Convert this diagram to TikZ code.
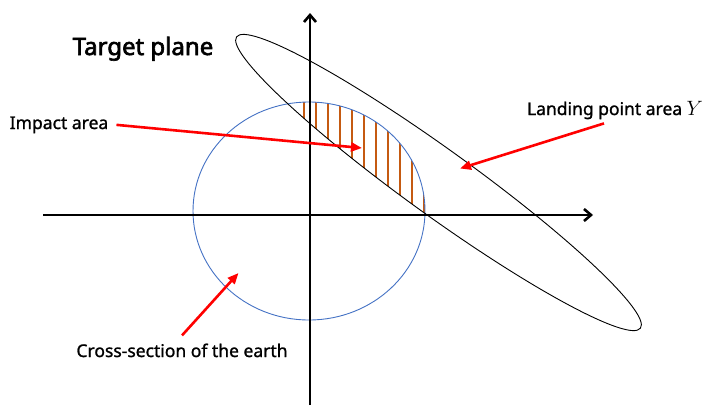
\documentclass[tikz,border=0pt]{standalone}
\usepackage{fontspec}
\setmainfont{Noto Sans}
\newfontfamily\semib{Noto Sans}[FakeBold=1.2]
\newfontfamily\heavyb{Noto Sans}[FakeBold=2.6]
\usepackage{tikz}
\usetikzlibrary{arrows.meta}
\definecolor{earthc}{HTML}{4472C4}
\definecolor{hatchc}{HTML}{C55A11}
\definecolor{pointc}{HTML}{FF0000}
\tikzset{
  ax/.style={-{Straight Barb[length=7pt,width=12pt]},line width=2.6pt},
  ar/.style={-{Triangle[length=11pt,width=9pt]},line width=2.6pt,pointc},
  lbl/.style={inner sep=0pt,font=\semib\fontsize{17.5}{20}\selectfont},
  hatch/.style={hatchc,line width=2.8pt}
}
\begin{document}
\begin{tikzpicture}[x=1pt,y=-1pt]
\useasboundingbox (0,0) rectangle (711,405);
% hatched impact area
\begin{scope}
\clip (309,211) ellipse [x radius=116, y radius=109];
\clip[shift={(438.5,182.5)},rotate=-35.8] (0,0) ellipse [x radius=249, y radius=33];
\foreach \hx in {304,316,...,424}
  \draw[hatch] (\hx,80) -- (\hx,230);
\end{scope}
% earth and landing area
\draw[earthc,line width=0.9pt] (309,211) ellipse [x radius=116, y radius=109];
\draw[black,line width=0.9pt,shift={(438.5,182.5)},rotate=-35.8] (0,0) ellipse [x radius=249, y radius=33];
% axes
\draw[ax] (43,215) -- (593,215);
\draw[ax] (310,405) -- (310,13);
% labels
\node[lbl,anchor=base,font=\heavyb\fontsize{24}{28}\selectfont] (target) at (143,55) {Target plane};
\node[lbl,anchor=base] (impact) at (59,129) {Impact area};
\node[lbl,anchor=base] (landing) at (615,115) {Landing point area {\fontsize{21}{24}\selectfont$Y$}};
\node[lbl,anchor=base] (earth) at (182,357) {Cross-section of the earth};
\coordinate (impactEnd) at (362,148);
\coordinate (landingEnd) at (460,168.5);
\coordinate (earthEnd) at (238.5,273);
\draw[ar] ([xshift=8pt]impact.east) -- (impactEnd);
\draw[ar] ([xshift=-11pt,yshift=-4pt]landing.south) -- (landingEnd);
\draw[ar] ([yshift=8pt]earth.north) -- (earthEnd);
\end{tikzpicture}
\end{document}
